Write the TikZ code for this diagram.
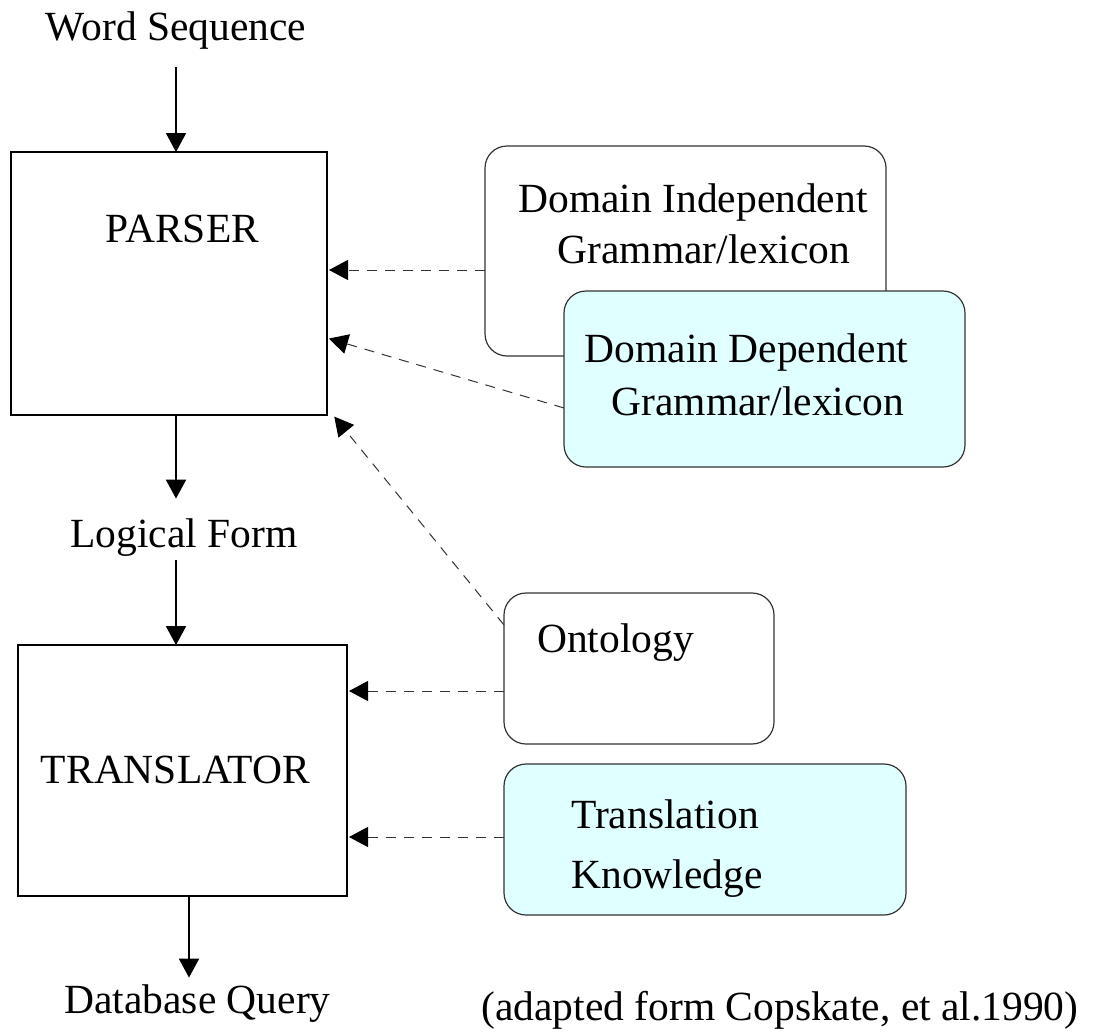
\documentclass[tikz,border=0pt]{standalone}
\usepackage{fontspec}
\setmainfont{Liberation Serif}
\usepackage{tikz}
\usetikzlibrary{arrows.meta}
\definecolor{kbCyan}{HTML}{E0FFFF}
\definecolor{kbEdge}{HTML}{333333}

\begin{document}
\begin{tikzpicture}[x=0.5pt, y=-0.5pt,
    font=\fontsize{20.75pt}{25pt}\selectfont,
    procbox/.style={draw, line width=1pt, inner sep=0pt, outer sep=0pt},
    kbbox/.style={draw=kbEdge, line width=0.6pt, rounded corners=11pt, inner sep=0pt, outer sep=0pt, fill=white},
    note/.style={inner sep=0pt, anchor=base, text height=14pt, text depth=4.5pt},
    flow/.style={-{Triangle[length=9.5pt, width=10pt]}, line width=1pt},
    feed/.style={-{Triangle[length=9.5pt, width=10pt, color=black]}, color=kbEdge, line width=0.5pt, dash pattern=on 5pt off 4pt, shorten >=1pt}]
  \useasboundingbox (0,0) rectangle (1096,1033);

  % main pipeline
  \node[note] (wordseq) at (176,40) {Word Sequence};
  \node[procbox, minimum width=158pt, minimum height=131.5pt] (parser) at (169,283.5) {};
  \node[note] (parserlbl) at (182.5,242.5) {PARSER};
  \node[note] (logical) at (184,547) {Logical Form};
  \node[procbox, minimum width=164.5pt, minimum height=125.5pt] (translator) at (182.5,770.5) {};
  \node[note] (translbl) at (175.5,783) {TRANSLATOR};
  \node[note] (query) at (197.5,1013) {Database Query};

  % knowledge sources
  \node[kbbox, minimum width=200.5pt, minimum height=105pt] (indep) at (685.5,251) {};
  \node[note] (indeptop) at (693,212) {Domain Independent};
  \node[note] (indepbot) at (704,263) {Grammar/lexicon};
  \node[kbbox, fill=kbCyan, minimum width=200.5pt, minimum height=88pt] (dep) at (764.5,379) {};
  \node[note] (deptop) at (746.5,362) {Domain Dependent};
  \node[note] (depbot) at (758,415) {Grammar/lexicon};
  \node[kbbox, minimum width=135pt, minimum height=75.5pt] (onto) at (639,668.5) {};
  \node[note] (ontolbl) at (615.5,652) {Ontology};
  \node[kbbox, fill=kbCyan, minimum width=201pt, minimum height=75.5pt] (tk) at (705,839.5) {};
  \node[note] (tktop) at (665,828) {Translation};
  \node[note] (tkbot) at (667,888) {Knowledge};

  \node[note] (cite) at (780,1020) {(adapted form Copskate, et al.1990)};

  % solid flow
  \draw[flow, shorten <=9pt] (wordseq.south) -- (wordseq.south |- parser.north);
  \draw[flow, shorten >=10pt] (parser.south -| wordseq.south) -- (logical.north -| wordseq.south);
  \draw[flow, shorten <=2pt] (logical.south -| wordseq.south) -- (translator.north -| wordseq.south);
  \draw[flow, shorten >=3.5pt] ([xshift=-4.25pt]query.north |- translator.south) -- ([xshift=-4.25pt]query.north);

  % dashed knowledge links
  \coordinate (indepout) at ([yshift=-9.5pt]indep.west);
  \coordinate (ontoout) at ([yshift=-11.25pt]onto.west);
  \coordinate (tkout) at ([yshift=1.25pt]tk.west);
  \draw[feed] (indepout) -- (indepout -| parser.east);
  \draw[feed] ([yshift=-14.5pt]dep.west) -- ([yshift=-27.25pt]parser.east);
  \draw[feed] ([yshift=21.75pt]onto.west) -- ([xshift=3pt]parser.south east);
  \draw[feed] (ontoout) -- (ontoout -| translator.east);
  \draw[feed] (tkout) -- (tkout -| translator.east);
\end{tikzpicture}
\end{document}
